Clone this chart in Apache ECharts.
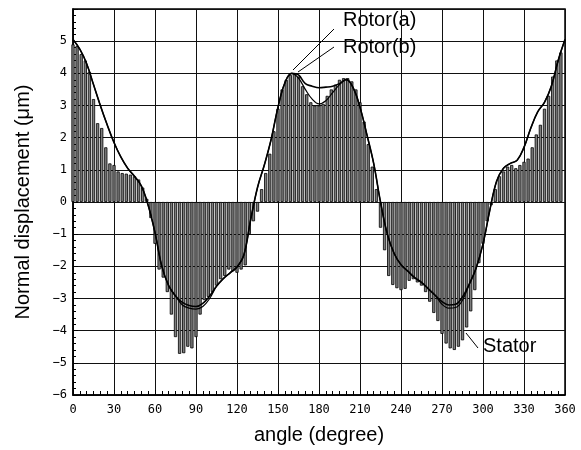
<!DOCTYPE html>
<html>
<head>
<meta charset="utf-8">
<script src="https://cdn.jsdelivr.net/npm/echarts@6/dist/echarts.min.js"></script>
<style>
    html, body { margin: 0; padding: 0; background: #fff; }
    #main { width: 581px; height: 450px; }
</style>
</head>
<body>
<div id="main"></div>
<script>
// stator displacement, one bar every 3 degrees (0..357)
var statorStep = 3;
var stator = [
    4.9, 4.85, 4.6, 4.4, 4.05, 3.2, 2.45, 2.3, 1.7, 1.2,
    1.15, 0.95, 0.9, 0.88, 0.85, 0.8, 0.7, 0.45, 0.1, -0.5,
    -1.3, -2.1, -2.35, -2.8, -3.5, -4.2, -4.72, -4.7, -4.5, -4.55,
    -4.2, -3.5, -3.05, -2.95, -2.8, -2.6, -2.4, -2.3, -2.1, -2.15,
    -2.2, -2.1, -1.97, -1.0, -0.6, -0.3, 0.4, 0.9, 1.5, 2.2,
    2.9, 3.5, 3.8, 3.95, 4.0, 3.9, 3.6, 3.35, 3.1, 3.0,
    3.0, 3.05, 3.3, 3.5, 3.65, 3.8, 3.85, 3.85, 3.75, 3.5,
    3.1, 2.5, 1.8, 1.1, 0.4, -0.8, -1.5, -2.3, -2.58, -2.68,
    -2.74, -2.7, -2.45, -2.4, -2.5, -2.6, -2.8, -3.1, -3.45, -3.7,
    -4.1, -4.4, -4.55, -4.6, -4.5, -4.3, -3.9, -3.4, -2.74, -1.9,
    -1.3, -0.6, -0.1, 0.4, 0.8, 0.95, 1.1, 1.15, 1.05, 1.15,
    1.25, 1.35, 1.7, 2.1, 2.4, 2.9, 3.3, 3.9, 4.4, 4.65
];
// rotor curves, one point every 5 degrees (0..360)
var rotorStep = 5;
var rotorA = [
    5.05, 4.75, 4.3, 3.65, 3.0, 2.4, 1.85, 1.4, 1.05, 0.8,
    0.5, -0.1, -0.95, -2.0, -2.6, -2.92, -3.12, -3.22, -3.25, -3.15,
    -2.92, -2.62, -2.38, -2.2, -2.02, -1.65, -0.55, 0.45, 1.15, 1.95,
    2.95, 3.7, 4.0, 3.95, 3.68, 3.6, 3.55, 3.57, 3.6, 3.68,
    3.8, 3.55, 2.95, 2.1, 1.2, 0.0, -1.0, -1.6, -1.95, -2.15,
    -2.35, -2.5, -2.7, -2.9, -3.1, -3.2, -3.18, -2.95, -2.55, -2.05,
    -1.3, -0.25, 0.65, 1.05, 1.2, 1.3, 1.7, 2.3, 2.8, 3.1,
    3.6, 4.4, 5.05
];
var rotorB = [
    5.05, 4.75, 4.3, 3.65, 3.0, 2.4, 1.85, 1.4, 1.05, 0.8,
    0.5, -0.1, -0.95, -2.0, -2.6, -2.92, -3.2, -3.3, -3.33, -3.25,
    -3.0, -2.62, -2.38, -2.2, -2.02, -1.65, -0.55, 0.45, 1.15, 1.95,
    2.95, 3.7, 4.0, 3.85, 3.5, 3.2, 3.05, 3.15, 3.4, 3.65,
    3.82, 3.55, 2.95, 2.1, 1.2, 0.0, -1.0, -1.6, -1.95, -2.15,
    -2.35, -2.5, -2.7, -2.9, -3.18, -3.3, -3.28, -3.05, -2.55, -2.05,
    -1.3, -0.25, 0.65, 1.05, 1.2, 1.3, 1.7, 2.3, 2.8, 3.1,
    3.6, 4.4, 5.05
];
var xTicks = { min: 0, max: 360, interval: 30 };
var yTicks = { min: -6, max: 6, interval: 1 };

/**
 * 把数值数组和角度配成 [角度, 值]
 */
var pairUp = function(values, step){
    var out = [];
    for(var i=0;i<values.length;i++){
        out.push([i*step, values[i]]);
    }
    return out;
}

var myChart = echarts.init(document.getElementById("main"), null, {renderer: 'canvas'});
var tickFont = 'DejaVu Sans Mono';
var textFont = 'Liberation Sans, Arial, sans-serif';

var option = {
    backgroundColor: '#fff',
    animation: false,
    grid: {
        left: 73, right: 16, top: 9, bottom: 55,
        show: true, borderColor: '#000', borderWidth: 1.5
    },
    xAxis: {
        type: 'value',
        min: xTicks.min, max: xTicks.max, interval: xTicks.interval,
        axisLine: { show: true, onZero: false, lineStyle: { color: '#000', width: 1.5 } },
        axisTick: { show: true, inside: true, length: 5, lineStyle: { color: '#000' } },
        minorTick: { show: true, splitNumber: 6, length: 4, lineStyle: { color: '#000' } },
        axisLabel: { color: '#000', fontFamily: tickFont, fontSize: 12, margin: 9 },
        splitLine: { show: true, lineStyle: { color: '#111', width: 1 } },
        name: 'angle (degree)',
        nameLocation: 'middle',
        nameGap: 30,
        nameTextStyle: { color: '#000', fontFamily: textFont, fontSize: 20 }
    },
    yAxis: {
        type: 'value',
        min: yTicks.min, max: yTicks.max, interval: yTicks.interval,
        axisLine: { show: true, onZero: false, lineStyle: { color: '#000', width: 1.5 } },
        axisTick: { show: true, inside: true, length: 5, lineStyle: { color: '#000' } },
        minorTick: { show: true, splitNumber: 5, length: 3, lineStyle: { color: '#000' } },
        axisLabel: {
            color: '#000', fontFamily: tickFont, fontSize: 12, margin: 6,
            formatter: function(v){ return v === 6 ? '' : String(v).replace('-', '\u2212'); }
        },
        splitLine: { show: true, lineStyle: { color: '#111', width: 1 } },
        name: 'Normal displacement (\u03bcm)',
        nameLocation: 'middle',
        nameGap: 40,
        nameTextStyle: { color: '#000', fontFamily: textFont, fontSize: 20 }
    },
    series: [
        {
            name: 'Stator',
            type: 'bar',
            barWidth: 3.2,
            data: pairUp(stator, statorStep),
            itemStyle: { color: '#7d7d7d', borderColor: '#000', borderWidth: 0.8 },
            z: 2
        },
        {
            name: 'Rotor(b)',
            type: 'line',
            smooth: 0.4,
            symbol: 'none',
            data: pairUp(rotorB, rotorStep),
            lineStyle: { color: '#000', width: 1.2 },
            z: 3
        },
        {
            name: 'Rotor(a)',
            type: 'line',
            smooth: 0.4,
            symbol: 'none',
            data: pairUp(rotorA, rotorStep),
            lineStyle: { color: '#000', width: 1.6 },
            z: 4
        }
    ],
    // 图上的标注文字和引线
    graphic: [
        { type: 'text', left: 343, top: 10, style: { text: 'Rotor(a)', font: '20px Liberation Sans', fill: '#000' } },
        { type: 'text', left: 343, top: 37, style: { text: 'Rotor(b)', font: '20px Liberation Sans', fill: '#000' } },
        { type: 'text', left: 483, top: 336, style: { text: 'Stator', font: '20px Liberation Sans', fill: '#000' } },
        { type: 'line', shape: { x1: 334, y1: 29, x2: 293, y2: 70 }, style: { stroke: '#000', lineWidth: 1 } },
        { type: 'line', shape: { x1: 334, y1: 47, x2: 298, y2: 72 }, style: { stroke: '#000', lineWidth: 1 } },
        { type: 'line', shape: { x1: 478, y1: 348, x2: 466, y2: 333 }, style: { stroke: '#000', lineWidth: 1 } }
    ]
};
myChart.setOption(option);
</script>
</body>
</html>
